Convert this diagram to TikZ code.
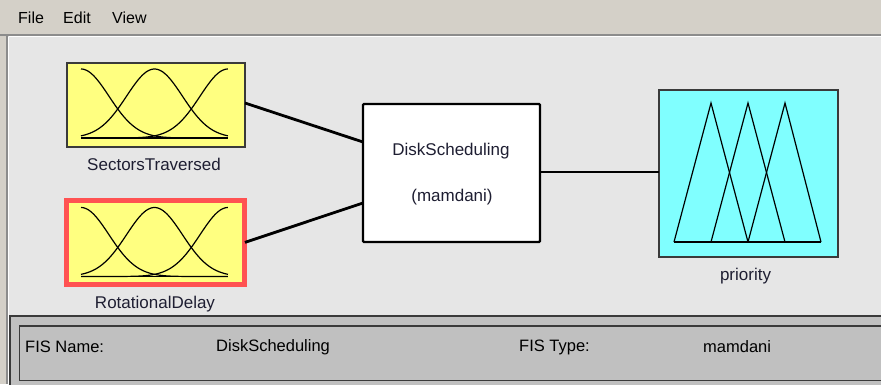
\documentclass[tikz,border=0pt]{standalone}
\usepackage{fontspec}
\setmainfont{Liberation Sans}
\definecolor{menubg}{HTML}{D4D0C8}
\definecolor{winbg}{HTML}{E6E6E6}
\definecolor{panelbg}{HTML}{C0C0C0}
\definecolor{mfyellow}{HTML}{FFFF80}
\definecolor{mfcyan}{HTML}{80FFFF}
\definecolor{selred}{HTML}{FF5252}
\definecolor{edgegray}{HTML}{3A3A3A}
\definecolor{sepgray}{HTML}{8C8C8C}
\definecolor{txt}{HTML}{1E1E32}
\begin{document}
\begin{tikzpicture}[x=1pt,y=-1pt,
  every node/.style={text=txt},
  varbox/.style={draw=edgegray, line width=1.3pt, fill=mfyellow, minimum width=178pt, minimum height=84pt, outer sep=0pt, inner sep=0pt},
  selbox/.style={varbox, draw=selred, line width=5.7pt},
  fisbox/.style={draw=black, line width=2.3pt, rounded corners=1pt, fill=white, minimum width=177pt, minimum height=138pt, outer sep=0pt, inner sep=0pt},
  outbox/.style={draw=edgegray, line width=1.3pt, fill=mfcyan, minimum width=179pt, minimum height=167pt, outer sep=0pt, inner sep=0pt},
  link/.style={draw=black, line width=2.8pt},
  mfline/.style={draw=black, line width=1.2pt},
  lbl/.style={font=\fontsize{17}{20}\selectfont, inner sep=0pt},
  menu/.style={font=\fontsize{16}{19}\selectfont, anchor=west, inner sep=0pt, text=black},
  paneltext/.style={font=\fontsize{16.5}{19}\selectfont, anchor=west, inner sep=0pt, text=black},
  gauss3/.pic={
    \draw[mfline] (0,69) -- (147,69);
    \foreach \c in {0,0.5,1}
      \draw[mfline] plot[domain=0:1,samples=80,smooth] ({147*\x},{69-69*exp(-((\x-\c)^2)/0.0722)});
  }
]
\useasboundingbox (0,0) rectangle (881,384);
\clip (0,0) rectangle (881,384);
% window background
\fill[winbg] (0,0) rectangle (881,384);
% menu bar
\fill[menubg] (0,0) rectangle (881,34);
\fill[menubg] (0,34) rectangle (6.5,384);
\draw[sepgray, line width=2pt] (0,34.5) -- (881,34.5);
\draw[sepgray, line width=1.5pt] (7.2,35) -- (7.2,384);
\draw[white, line width=1.2pt] (8.6,36.6) -- (881,36.6);
\draw[white, line width=1.2pt] (8.6,36.6) -- (8.6,384);
\node[menu] (mfile) at (18,18) {File};
\node[menu] (medit) at (63,18) {Edit};
\node[menu] (mview) at (112,18) {View};

% input 1
\node[varbox] (in1) at (156,105) {};
\pic at (81,69) {gauss3};
\node[lbl] (in1lbl) at (154,164) {SectorsTraversed};

% input 2 (selected)
\node[selbox] (in2) at (155.4,242.4) {};
\pic at (81,207.5) {gauss3};
\node[lbl] (in2lbl) at (155,304) {RotationalDelay};

% FIS box
\node[fisbox] (fis) at (451.5,173) {};
\node[lbl] (fisname) at (451,151) {DiskScheduling};
\node[lbl] (fistype) at (452,197) {(mamdani)};

% output
\node[outbox] (out) at (748.5,173.5) {};
\draw[mfline] (674,242) -- (821,242);
\draw[mfline] (674,242) -- (711,103) -- (748,242);
\draw[mfline] (711,242) -- (748,103) -- (785,242);
\draw[mfline] (748,242) -- (785,103) -- (821,242);
\node[lbl] (outlbl) at (745.5,276) {priority};

% connectors
\draw[link] ([yshift=2pt]in1.east) -- ([yshift=31pt]fis.west);
\draw[link] ([xshift=-2pt]in2.east) ++(2.5pt,0) -- ([yshift=-30pt]fis.west);
\draw[link] ([yshift=1pt]fis.east) -- ([yshift=1.5pt]out.west);

% bottom panel
\draw[edgegray, line width=2pt, fill=panelbg] (9.5,316) rectangle (900,400);
\draw[edgegray, line width=1.5pt] (19.5,326) rectangle (900,380.5);
\node[paneltext] (fnl) at (25,347) {FIS Name:};
\node[paneltext] (fnv) at (216,347) {DiskScheduling};
\node[paneltext] (ftl) at (519,347) {FIS Type:};
\node[paneltext] (ftv) at (703,347) {mamdani};
\end{tikzpicture}
\end{document}
